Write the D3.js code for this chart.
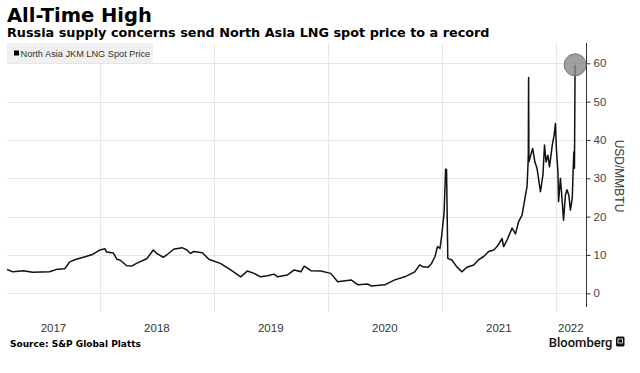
<!DOCTYPE html>
<html>
<head>
<meta charset="utf-8">
<script src="https://cdn.jsdelivr.net/npm/d3@7"></script>
<style>
  body { margin: 0; background: #fff; }
  svg { display: block; }
</style>
</head>
<body>
<div id="chart"></div>
<script>
// JKM spot price, USD/MMBtu
var dates = ["2017-03-09","2017-03-28","2017-04-30","2017-05-30","2017-07-23","2017-08-18","2017-09-10","2017-09-26","2017-10-17","2017-11-17","2017-12-10",
  "2018-01-01","2018-01-17","2018-01-22","2018-02-13","2018-02-24","2018-03-06","2018-03-28","2018-04-13","2018-04-28","2018-05-31","2018-06-21","2018-07-02","2018-07-23","2018-08-03","2018-08-25","2018-09-21","2018-10-07","2018-10-18","2018-10-29","2018-11-25","2018-12-16",
  "2019-01-22","2019-02-24","2019-03-28","2019-04-18","2019-05-10","2019-05-31","2019-06-22","2019-07-13","2019-07-24","2019-08-25","2019-09-16","2019-10-07","2019-10-18","2019-11-08","2019-12-10",
  "2020-01-11","2020-02-02","2020-03-16","2020-04-07","2020-05-09","2020-05-20","2020-07-02","2020-08-03","2020-09-04","2020-10-06","2020-10-22","2020-11-02","2020-11-18","2020-11-29","2020-12-10","2020-12-18","2020-12-26","2020-12-31",
  "2021-01-08","2021-01-13","2021-01-16","2021-01-20","2021-02-02","2021-02-18","2021-03-06","2021-03-22","2021-04-13","2021-04-28","2021-05-15","2021-05-31","2021-06-16","2021-06-27","2021-07-13","2021-07-18","2021-07-29","2021-08-14","2021-08-25","2021-09-04","2021-09-15","2021-09-26","2021-10-01","2021-10-04","2021-10-05","2021-10-06","2021-10-07","2021-10-19","2021-10-26","2021-11-02","2021-11-13","2021-11-21","2021-11-26","2021-12-01","2021-12-07","2021-12-12","2021-12-21","2021-12-27","2021-12-31",
  "2022-01-03","2022-01-08","2022-01-10","2022-01-16","2022-01-21","2022-01-26","2022-02-01","2022-02-06","2022-02-12","2022-02-17","2022-02-23","2022-02-26","2022-02-28","2022-03-02","2022-03-04"];
var prices = [6.2,5.6,5.9,5.5,5.6,6.3,6.4,8.2,8.9,9.6,10.2,
  11.3,11.6,10.8,10.5,8.9,8.7,7.2,7.1,7.8,9.0,11.3,10.4,9.4,10.0,11.5,11.9,11.3,10.4,10.9,10.6,8.9,
  7.8,6.1,4.3,5.8,5.2,4.3,4.6,5.0,4.3,4.8,6.1,5.6,7.1,5.9,5.8,
  5.2,3.0,3.5,2.2,2.4,1.9,2.2,3.5,4.3,5.6,7.4,6.9,6.8,7.8,9.6,12.2,11.7,14.8,
  20.9,32.4,32.2,9.1,8.7,6.9,5.6,6.8,7.4,8.7,9.6,10.9,11.3,12.2,14.3,12.2,13.9,17.0,15.5,18.7,20.4,25.6,27.8,33.5,36.0,56.3,34.3,37.8,34.3,32.6,26.5,30.9,38.7,34.3,36.0,33.0,38.7,41.3,44.3,
  37.8,31.7,23.9,30.0,24.8,19.1,25.6,27.0,25.6,21.7,24.8,32.6,36.9,32.6,59.6];
var yTicks = [0, 10, 20, 30, 40, 50, 60];
var seriesName = "North Asia JKM LNG Spot Price";

function drawChart(){
    var width = 640, height = 373;
    var left = 7, right = 586, top = 43, zeroY = 293.3, sixtyY = 63.3;
    var parse = d3.timeParse("%Y-%m-%d");
    var data = dates.map(function(d, i){ return {date: parse(d), value: prices[i]}; });

    var x = d3.scaleTime()
        .domain([parse("2017-03-09"), parse("2022-04-08")])
        .range([left, right]);
    var y = d3.scaleLinear().domain([0, 60]).range([zeroY, sixtyY]);

    var svg = d3.select("#chart").append("svg")
        .attr("width", width).attr("height", height);

    svg.append("text").attr("x", 7).attr("y", 21.5)
        .style("font", "bold 19.5px 'DejaVu Sans'").attr("fill", "#000")
        .text("All-Time High");
    svg.append("text").attr("x", 7).attr("y", 37)
        .style("font", "bold 12.8px 'DejaVu Sans'").attr("fill", "#000")
        .text("Russia supply concerns send North Asia LNG spot price to a record");

    // grid
    var grid = svg.append("g").attr("stroke", "#e6e6e6").attr("stroke-width", 1);
    grid.selectAll(null).data(yTicks).enter().append("line")
        .attr("x1", left).attr("x2", right)
        .attr("y1", function(d){ return Math.round(y(d)) + 0.5; })
        .attr("y2", function(d){ return Math.round(y(d)) + 0.5; });
    var yearStarts = d3.timeYear.range(x.domain()[0], x.domain()[1]);
    grid.selectAll(null).data(yearStarts).enter().append("line")
        .attr("x1", function(d){ return Math.round(x(d)) + 0.5; })
        .attr("x2", function(d){ return Math.round(x(d)) + 0.5; })
        .attr("y1", top).attr("y2", 312);

    // legend
    var lg = svg.append("g");
    lg.append("rect").attr("x", 7).attr("y", 43).attr("width", 146).attr("height", 20).attr("fill", "#f0f0f0");
    lg.append("rect").attr("x", 14).attr("y", 50.5).attr("width", 5).attr("height", 5).attr("fill", "#000");
    lg.append("text").attr("x", 20.5).attr("y", 56.5)
        .style("font", "9.2px 'Liberation Sans'").attr("fill", "#333")
        .text(seriesName);

    // y axis on the right
    var yAxis = d3.axisRight(y).tickValues(yTicks).tickSize(4).tickPadding(3);
    var ya = svg.append("g").attr("transform", "translate(" + (right + 0.5) + ",0)").call(yAxis);
    ya.select(".domain").remove();
    ya.append("line").attr("x1", 0).attr("x2", 0).attr("y1", top).attr("y2", 307).attr("stroke", "#333");
    ya.selectAll(".tick line").attr("stroke", "#333");
    ya.selectAll(".tick text").style("font", "11.5px 'Liberation Sans'").attr("fill", "#444");

    svg.append("text")
        .attr("transform", "translate(615," + 176 + ") rotate(90)")
        .attr("text-anchor", "middle")
        .style("font", "12px 'Liberation Sans'").attr("fill", "#333")
        .text("USD/MMBTU");

    // year labels centred on the visible part of each year
    var years = d3.timeYear.range(d3.timeYear.floor(x.domain()[0]), x.domain()[1]);
    svg.selectAll(null).data(years).enter().append("text")
        .attr("x", function(d){
            var a = Math.max(x(d), left), b = Math.min(x(d3.timeYear.offset(d, 1)), right);
            return (a + b) / 2;
        })
        .attr("y", 332)
        .attr("text-anchor", "middle")
        .style("font", "11.5px 'Liberation Sans'").attr("fill", "#333")
        .text(d3.timeFormat("%Y"));

    // price line
    var line = d3.line()
        .x(function(d){ return x(d.date); })
        .y(function(d){ return y(d.value); });
    svg.append("path").datum(data)
        .attr("d", line)
        .attr("fill", "none").attr("stroke", "#111").attr("stroke-width", 1.5)
        .attr("stroke-linejoin", "round");

    // highlight on the last point
    var last = data[data.length - 1];
    svg.append("circle")
        .attr("cx", x(last.date)).attr("cy", y(last.value)).attr("r", 11)
        .attr("fill", "#888").attr("fill-opacity", 0.8)
        .attr("stroke", "#777").attr("stroke-width", 1);

    // footer
    svg.append("text").attr("x", 10).attr("y", 346.5)
        .style("font", "bold 9px 'DejaVu Sans'").attr("fill", "#000")
        .text("Source:  S&P Global Platts");
    svg.append("text").attr("x", 612.5).attr("y", 346.5)
        .attr("text-anchor", "end")
        .style("font", "500 13px Roboto").attr("fill", "#111")
        .text("Bloomberg");
    svg.append("rect").attr("x", 616).attr("y", 336.5).attr("width", 8.5).attr("height", 10)
        .attr("rx", 1.5).attr("fill", "#111");
    svg.append("rect").attr("x", 618).attr("y", 339).attr("width", 4.5).attr("height", 4)
        .attr("fill", "none").attr("stroke", "#fff").attr("stroke-width", 0.8);
}

drawChart();
</script>
</body>
</html>
